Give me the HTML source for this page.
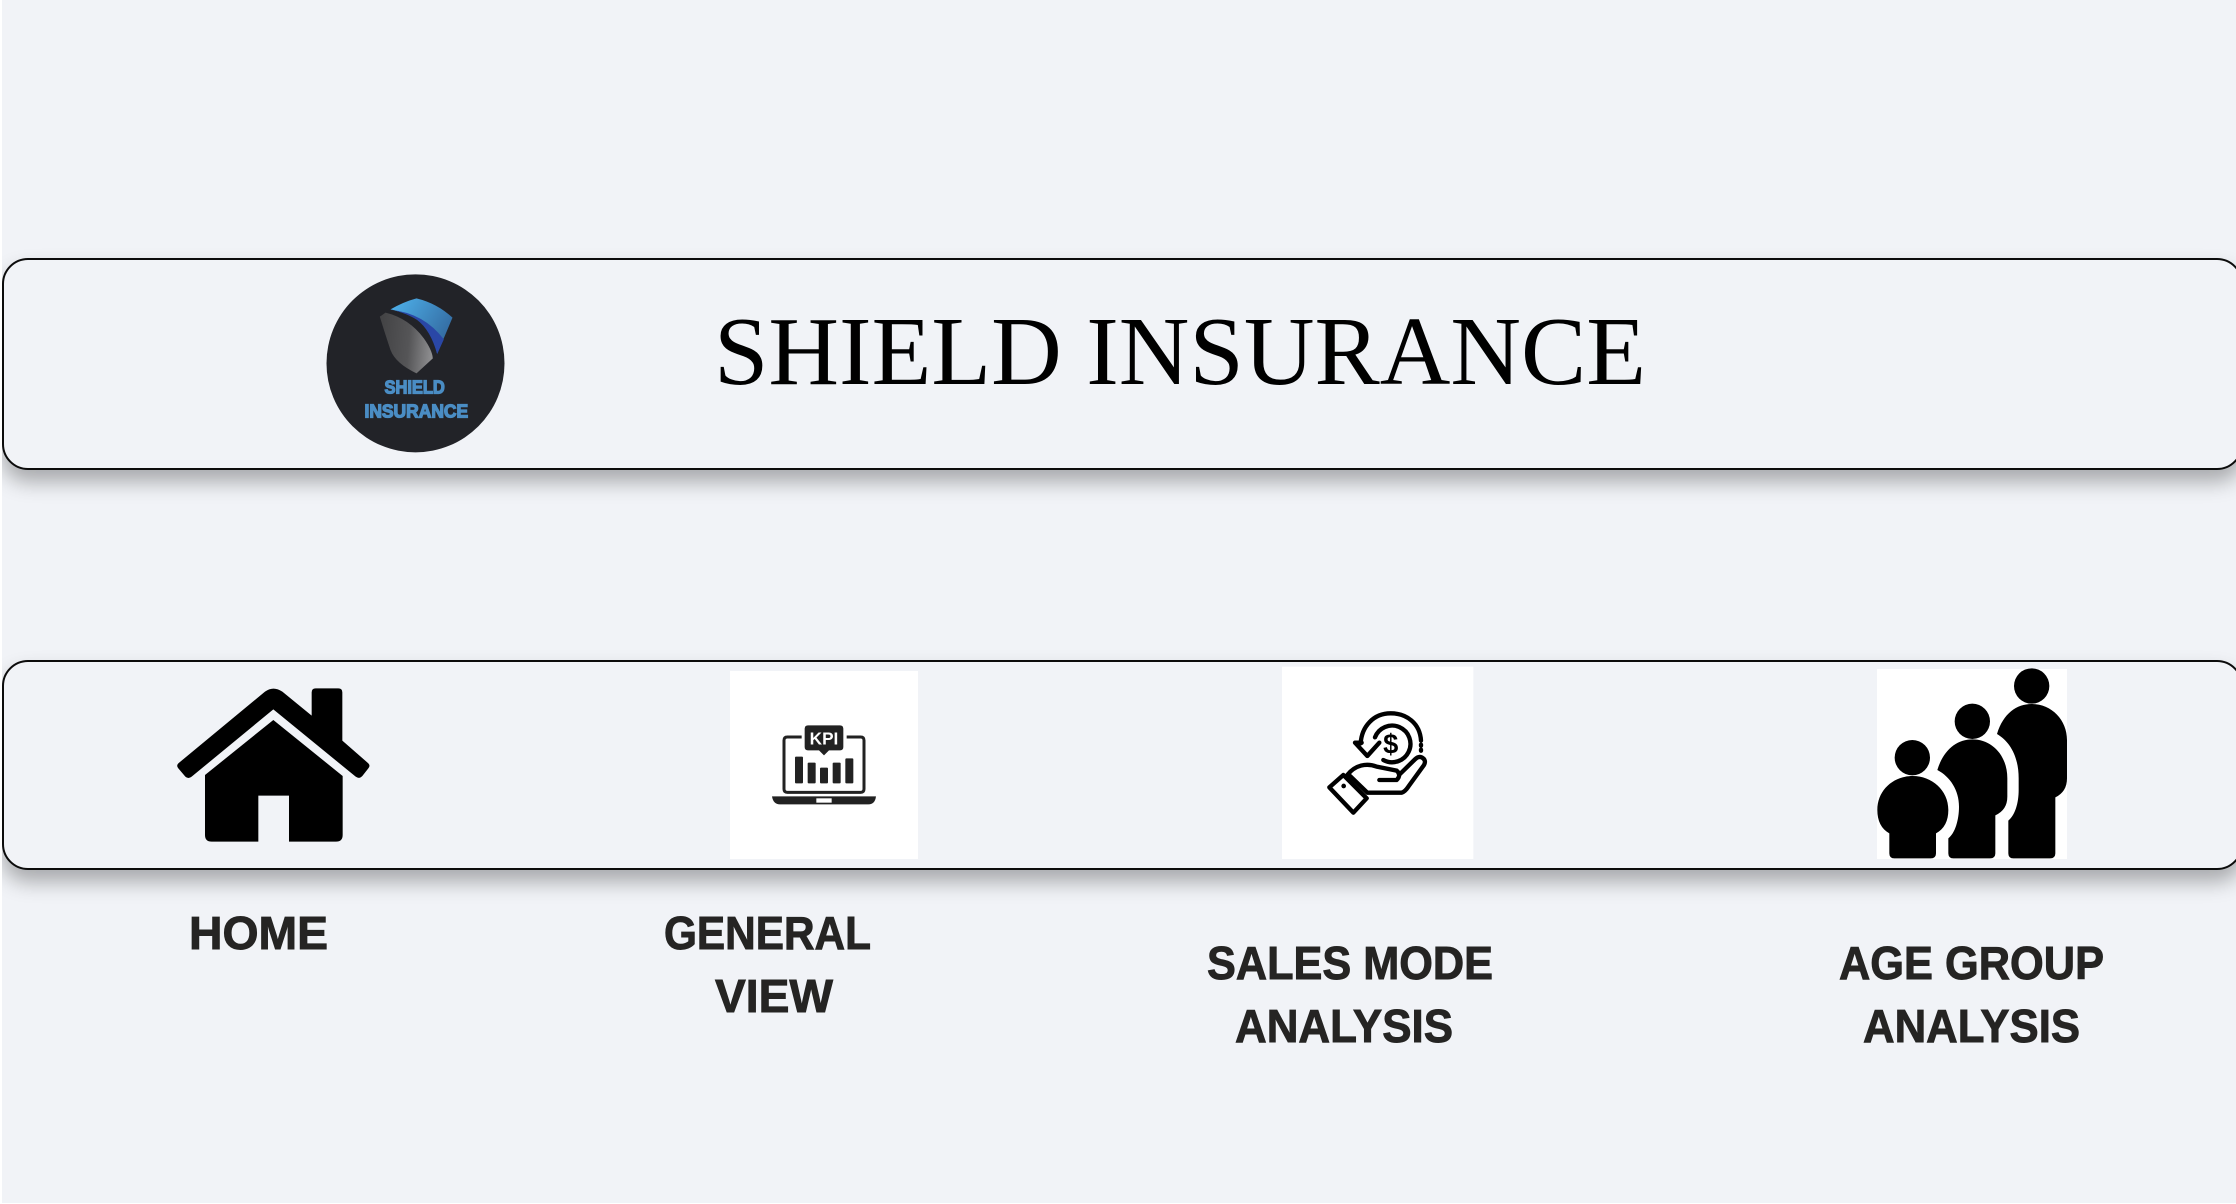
<!DOCTYPE html>
<html lang="en">
<head>
<meta charset="utf-8">
<title>Shield Insurance</title>
<style>
html,body{margin:0;padding:0;width:2236px;height:1204px;overflow:hidden;background:#fff}
#canvas{position:absolute;left:2px;top:0;width:2234px;height:1203px;background:#f1f3f7;overflow:hidden}
.bar{position:absolute;left:0;width:2241px;box-sizing:border-box;border:2px solid #0c0c0c;border-radius:26px;background:#f1f3f7;box-shadow:0 12px 20px rgba(0,0,0,.3)}
#art{position:absolute;left:0;top:0}
.lbl{font-family:"Liberation Sans",sans-serif;font-weight:700;font-size:46px;fill:#252423;stroke:#252423;stroke-width:.9px}
</style>
</head>
<body>
<div id="canvas">
  <div class="bar" style="top:258px;height:212px"></div>
  <div class="bar" style="top:660px;height:210px"></div>
</div>
<svg id="art" width="2236" height="1204" viewBox="0 0 2236 1204" xmlns="http://www.w3.org/2000/svg">
  <defs>
    <linearGradient id="blueGrad" x1="0" y1="0" x2="1" y2="0.6">
      <stop offset="0" stop-color="#4fb4ee"/><stop offset="1" stop-color="#33699f"/>
    </linearGradient>
    <linearGradient id="grayGrad" x1="0" y1="0.4" x2="1" y2="0.5">
      <stop offset="0" stop-color="#434345"/><stop offset="0.55" stop-color="#555557"/><stop offset="1" stop-color="#8f8f91"/>
    </linearGradient>
  </defs>

  <g transform="translate(280.5 250) scale(.33333)">
    <circle cx="405" cy="340" r="267" fill="#222328"/>
    <path d="M330,178 Q370,155 408,145 Q470,160 516,203 L470,312 Q455,250 420,215 Q385,190 330,178Z" fill="url(#blueGrad)"/>
    <path d="M335,180 Q430,190 490,268 L470,312 Q450,240 410,210 Q380,190 330,178Z" fill="#2a47a6"/>
    <path d="M298,200 L315,188 Q385,205 430,265 Q455,300 457,325 L408,370 Q345,340 330,300 Q310,240 298,200Z" fill="url(#grayGrad)"/>
    <text x="312" y="430" textLength="181" lengthAdjust="spacingAndGlyphs" font-family="'Liberation Sans',sans-serif" font-weight="700" font-size="56" fill="#4a8dc4" stroke="#4a8dc4" stroke-width="4">SHIELD</text>
    <text x="252" y="502" textLength="311" lengthAdjust="spacingAndGlyphs" font-family="'Liberation Sans',sans-serif" font-weight="700" font-size="56" fill="#4a8dc4" stroke="#4a8dc4" stroke-width="4">INSURANCE</text>
  </g>

  <text x="714" y="384" textLength="932" lengthAdjust="spacingAndGlyphs" font-family="'Liberation Serif',serif" font-size="98" fill="#000">SHIELD INSURANCE</text>

  <g transform="translate(150 660) scale(.33333)" fill="#000">
    <path d="M165,345 L370,180 L578,348 V525 Q578,545 558,545 H417 V407 H325 V545 H185 Q165,545 165,525Z"/>
    <path d="M85,310 L345,95 Q370,77 397,95 L485,167 V97 Q485,85 497,85 H565 Q577,85 577,97 V242 L655,310 Q662,317 655,325 L637,348 Q628,358 617,350 L370,148 L125,350 Q115,358 106,350 L85,325 Q78,317 85,310Z"/>
  </g>

  <g transform="translate(700 650) scale(.33333)">
    <rect x="90" y="63" width="564" height="564" fill="#fff"/>
    <path d="M305,261 H262 Q252,261 252,271 V417 Q252,427 262,427 H482 Q492,427 492,417 V271 Q492,261 482,261 H440" fill="none" stroke="#222" stroke-width="9"/>
    <path d="M324,226 H420 Q430,226 430,236 V291 Q430,301 420,301 H387 L372,316 L357,301 H324 Q314,301 314,291 V236 Q314,226 324,226Z" fill="#222"/>
    <text x="372" y="283" text-anchor="middle" textLength="86" lengthAdjust="spacingAndGlyphs" font-family="'Liberation Sans',sans-serif" font-weight="700" font-size="54" fill="#fff">KPI</text>
    <rect x="285" y="320" width="24" height="80" rx="3" fill="#222"/>
    <rect x="323" y="338" width="24" height="62" rx="3" fill="#222"/>
    <rect x="360" y="353" width="24" height="47" rx="3" fill="#222"/>
    <rect x="398" y="338" width="24" height="62" rx="3" fill="#222"/>
    <rect x="436" y="325" width="24" height="75" rx="3" fill="#222"/>
    <path d="M216,439 H528 Q525,463 505,463 H240 Q220,463 216,439Z" fill="#222"/>
    <rect x="349" y="445" width="46" height="13" fill="#fff"/>
  </g>

  <g transform="translate(1270 650) scale(.33333)">
    <rect x="36" y="50" width="574" height="577" fill="#fff"/>
    <g fill="none" stroke="#000" stroke-width="13" stroke-linecap="round" stroke-linejoin="round">
      <path d="M453,272 C450,220 410,190 362,190 C310,190 275,230 272,280"/>
      <path d="M255,278 L275,278 M255,278 L292,318 L328,278"/>
      <path d="M315,262 A55,55 0 1 1 340,330"/>
      <path d="M453,284 V287 M453,299 V302"/>
      <path d="M232,375 C255,345 290,338 320,350 L380,362 Q395,375 380,390 H328"/>
      <path d="M240,378 L292,428 H395 Q405,425 415,410 L462,345 Q470,330 455,322 Q445,318 435,328 L390,372"/>
      <path d="M178,412 L220,375 L290,445 L250,488Z"/>
    </g>
    <circle cx="221" cy="408" r="7" fill="#000"/>
    <text x="362" y="310" text-anchor="middle" font-family="'Liberation Sans',sans-serif" font-weight="700" font-size="82" fill="#000">$</text>
  </g>

  <g transform="translate(1860 650) scale(.33333)" fill="#000">
    <rect x="51" y="57" width="570" height="570" fill="#fff"/>
    <circle cx="157" cy="323" r="53"/>
    <circle cx="337" cy="214" r="53"/>
    <circle cx="515" cy="108" r="53"/>
    <path d="M88,550 Q52,530 52,480 C52,420 100,378 158,378 C215,378 265,420 265,480 Q265,530 228,550 V610 Q228,625 212,625 H103 Q88,625 88,610Z"/>
    <path d="M232,360 C250,300 290,268 337,268 C395,268 442,315 442,385 V440 Q442,480 406,496 V610 Q406,625 390,625 H280 Q265,625 265,610 V565 C285,550 297,510 297,470 C297,420 270,380 232,360Z"/>
    <path d="M411,252 C430,190 470,162 515,162 C575,162 621,210 621,270 V385 Q621,425 586,442 V610 Q586,625 570,625 H460 Q445,625 445,610 V512 C465,495 476,460 476,420 V385 C476,320 450,275 411,252Z"/>
  </g>

  <text class="lbl" x="189" y="949" textLength="139" lengthAdjust="spacingAndGlyphs">HOME</text>
  <text class="lbl" x="664" y="949" textLength="207" lengthAdjust="spacingAndGlyphs">GENERAL</text>
  <text class="lbl" x="715" y="1012" textLength="118" lengthAdjust="spacingAndGlyphs">VIEW</text>
  <text class="lbl" x="1207" y="979" textLength="286" lengthAdjust="spacingAndGlyphs">SALES MODE</text>
  <text class="lbl" x="1235" y="1042" textLength="218" lengthAdjust="spacingAndGlyphs">ANALYSIS</text>
  <text class="lbl" x="1839" y="979" textLength="265" lengthAdjust="spacingAndGlyphs">AGE GROUP</text>
  <text class="lbl" x="1863" y="1042" textLength="217" lengthAdjust="spacingAndGlyphs">ANALYSIS</text>
</svg>
</body>
</html>
